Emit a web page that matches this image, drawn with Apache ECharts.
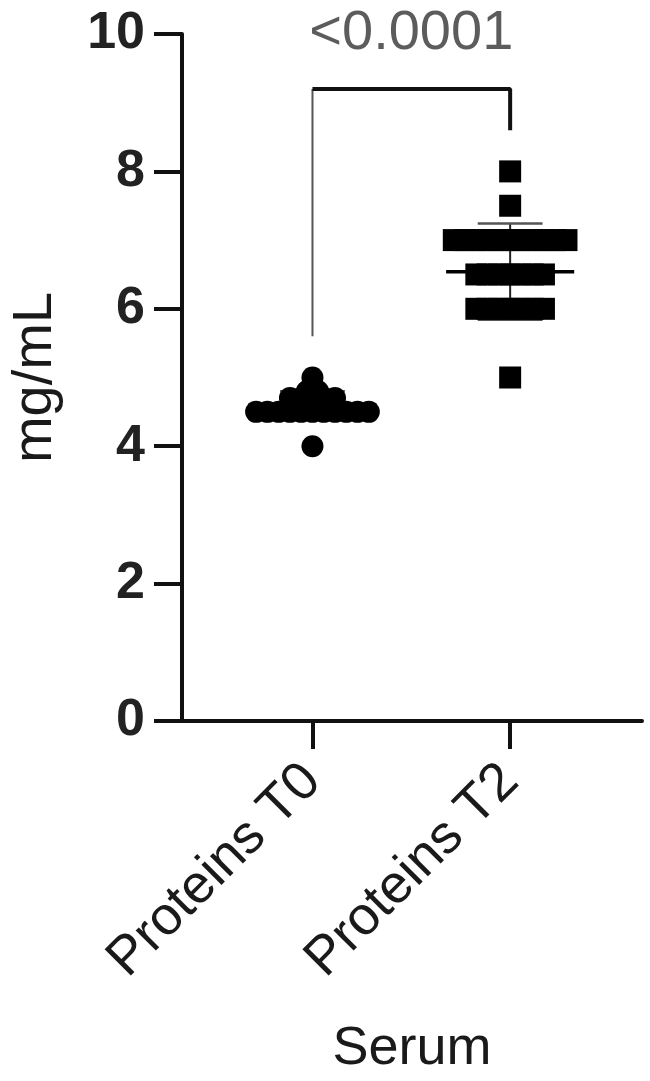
<!DOCTYPE html>
<html>
<head>
<meta charset="utf-8">
<script src="https://cdn.jsdelivr.net/npm/echarts@6/dist/echarts.min.js"></script>
<style>
    html,body{margin:0;padding:0;background:#fff;}
    #main{width:650px;height:1081px;}
</style>
</head>
<body>
<div id="main"></div>
<script>
var categories=['Proteins T0','Proteins T2'];
var yTicks=[0,2,4,6,8,10];
// individual values
var t0Values=[4.0,
    4.5,4.5,4.5,4.5,4.5,4.5,4.5,4.5,4.5,4.5,4.5,
    4.6,4.6,4.6,
    4.7,4.7,4.7,4.7,4.7,
    4.8,4.8,
    4.9,
    5.0];
var t2Values=[8.0,7.5,
    7.0,7.0,7.0,7.0,7.0,7.0,7.0,7.0,7.0,7.0,7.0,
    6.5,6.5,6.5,6.5,6.5,6.5,6.5,
    6.0,6.0,6.0,6.0,6.0,6.0,6.0,
    5.0];
// mean and SD as drawn
var means=[4.6,6.54];
var sds=[0.2,0.7];
// significance bracket: left foot, top, right foot
var bracketLeft=5.6;
var bracketTop=9.2;
var bracketRight=8.6;
var pText='<0.0001';

var step=0.057;

// spread equal values side by side around the group centre
function spread(values,centre){
    var counts={},seen={},out=[];
    values.forEach(function(v){counts[v]=(counts[v]||0)+1;});
    values.forEach(function(v){
        var i=seen[v]||0;
        seen[v]=i+1;
        out.push([centre+(i-(counts[v]-1)/2)*step,v]);
    });
    return out;
}

var myChart=echarts.init(document.getElementById('main'));
var font='Liberation Sans, Arial, sans-serif';

var option={
    animation:false,
    grid:{left:182,right:8,top:34,bottom:359},
    xAxis:{
        type:'value',
        min:0.34,
        max:2.667,
        splitLine:{show:false},
        axisLine:{lineStyle:{color:'#111',width:4}},
        axisTick:{show:true,customValues:[1,2],length:28,lineStyle:{color:'#111',width:4}},
        axisLabel:{
            customValues:[1,2],
            rotate:45,
            margin:52,
            fontSize:54,
            fontFamily:font,
            color:'#1a1a1a',
            formatter:function(v){return categories[Math.round(v)-1];}
        },
        name:'Serum',
        nameLocation:'middle',
        nameGap:301,
        nameTextStyle:{fontSize:54,fontFamily:font,color:'#1a1a1a'}
    },
    yAxis:{
        type:'value',
        min:yTicks[0],
        max:yTicks[yTicks.length-1],
        interval:2,
        splitLine:{show:false},
        axisLine:{show:true,lineStyle:{color:'#111',width:4}},
        axisTick:{show:true,length:28,lineStyle:{color:'#111',width:4}},
        axisLabel:{margin:37,fontSize:52,fontWeight:'bold',fontFamily:font,color:'#222'},
        name:'mg/mL',
        nameLocation:'middle',
        nameGap:118,
        nameTextStyle:{fontSize:56,fontFamily:font,color:'#1a1a1a'}
    },
    series:[{
        // mean and SD bars, drawn under the points
        type:'custom',
        z:1,
        data:means.map(function(m,i){return [i+1,m,sds[i]];}),
        renderItem:function(params,api){
            var x=api.value(0),m=api.value(1),sd=api.value(2);
            var a=api.coord([x-0.324,m]),b=api.coord([x+0.324,m]);
            var hi=api.coord([x,m+sd]),lo=api.coord([x,m-sd]);
            var c1=api.coord([x-0.164,m+sd]),c2=api.coord([x+0.164,m+sd]);
            var d1=api.coord([x-0.164,m-sd]),d2=api.coord([x+0.164,m-sd]);
            return {type:'group',children:[
                {type:'line',shape:{x1:hi[0],y1:hi[1],x2:lo[0],y2:lo[1]},style:{stroke:'#222',lineWidth:2}},
                {type:'line',shape:{x1:c1[0],y1:c1[1],x2:c2[0],y2:c2[1]},style:{stroke:'#555',lineWidth:2.5}},
                {type:'line',shape:{x1:d1[0],y1:d1[1],x2:d2[0],y2:d2[1]},style:{stroke:'#555',lineWidth:2.5}},
                {type:'line',shape:{x1:a[0],y1:a[1],x2:b[0],y2:b[1]},style:{stroke:'#000',lineWidth:3.5}}
            ]};
        }
    },{
        type:'scatter',
        symbol:'circle',
        symbolSize:22,
        z:3,
        itemStyle:{color:'#000',opacity:1},
        data:spread(t0Values,1)
    },{
        type:'scatter',
        symbol:'rect',
        symbolSize:22,
        z:3,
        itemStyle:{color:'#000',opacity:1},
        data:spread(t2Values,2)
    },{
        type:'line',
        symbol:'none',
        lineStyle:{color:'#555',width:2},
        data:[[1,bracketLeft],[1,bracketTop]]
    },{
        type:'line',
        symbol:'none',
        lineStyle:{color:'#111',width:4},
        data:[[1,bracketTop],[2,bracketTop],[2,bracketRight]]
    },{
        type:'scatter',
        symbolSize:0,
        clip:false,
        data:[[1.5,10.0]],
        label:{
            show:true,
            position:'inside',
            formatter:pText,
            fontSize:56,
            fontFamily:font,
            color:'#333'
        }
    }]
};
myChart.setOption(option);
</script>
</body>
</html>
